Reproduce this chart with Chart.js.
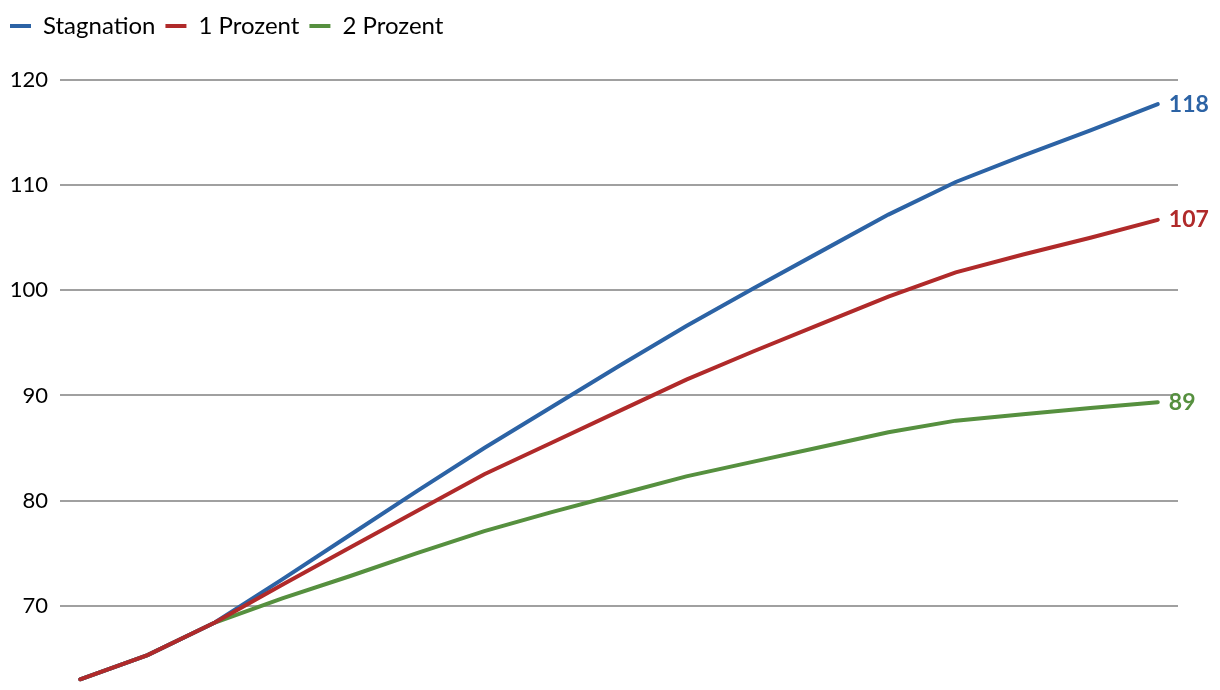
<!DOCTYPE html>
<html>
<head>
<meta charset="utf-8">
<script src="https://cdn.jsdelivr.net/npm/chart.js@4/dist/chart.umd.min.js"></script>
<style>
  html, body { margin: 0; padding: 0; background: #fff; overflow: hidden; height: 690px; }
  canvas { display: block; }
</style>
</head>
<body>
<canvas id="chart" width="1220" height="715"></canvas>
<script>
"use strict";

// Zeitschritte (x-Positionen), Achsenbeschriftung ist im Bild abgeschnitten
const schritte = [0, 1, 2, 3, 4, 5, 6, 7, 8, 9, 10, 11, 12, 13, 14, 15, 16];

const stagnation = [63.0, 65.3, 68.4, 72.5, 76.7, 80.9, 85.0, 88.9, 92.8, 96.6, 100.2, 103.7, 107.2, 110.3, 112.8, 115.2, 117.7];
const prozent1   = [63.0, 65.3, 68.4, 72.0, 75.5, 79.0, 82.5, 85.5, 88.5, 91.5, 94.2, 96.8, 99.4, 101.7, 103.4, 105.0, 106.7];
const prozent2   = [63.0, 65.3, 68.4, 70.7, 72.8, 75.0, 77.1, 78.9, 80.6, 82.3, 83.7, 85.1, 86.5, 87.6, 88.2, 88.8, 89.35];

const yTicks = [70, 80, 90, 100, 110, 120];

const blau = "#2c63a5";
const rot = "#b02a2a";
const gruen = "#56903f";
const schrift = "Lato, 'Noto Sans', sans-serif";

const toPoints = arr => arr.map((v, i) => ({ x: schritte[i], y: v }));

// mehr Abstand unter der Legende
const legendGap = {
    id: 'legendGap',
    beforeInit(chart) {
        const legend = chart.legend;
        if (!legend) return;
        const fit = legend.fit;
        legend.fit = function () {
            fit.call(this);
            this.height += 32;
        };
    }
};

// Endwerte rechts neben den Linien
const endLabels = {
    id: 'endLabels',
    afterDatasetsDraw(chart) {
        const ctx = chart.ctx;
        ctx.save();
        ctx.font = "bold 23px " + schrift;
        ctx.textBaseline = "middle";
        ctx.textAlign = "left";
        chart.data.datasets.forEach((ds, i) => {
            const meta = chart.getDatasetMeta(i);
            const pt = meta.data[meta.data.length - 1];
            const val = ds.data[ds.data.length - 1].y;
            ctx.fillStyle = ds.borderColor;
            ctx.fillText(Math.round(val), pt.x + 11, pt.y);
        });
        ctx.restore();
    }
};

function serie(label, werte, farbe, order) {
    return {
        label: label,
        data: toPoints(werte),
        borderColor: farbe,
        backgroundColor: farbe,
        pointBorderColor: farbe,
        pointBackgroundColor: farbe,
        pointBorderWidth: 4,
        borderWidth: 4,
        order: order
    };
}

const ctx = document.getElementById('chart').getContext('2d');

new Chart(ctx, {
    type: 'line',
    data: {
        datasets: [
            serie('Stagnation', stagnation, blau, 1),
            serie('1 Prozent', prozent1, rot, 0),
            serie('2 Prozent', prozent2, gruen, 2)
        ]
    },
    options: {
        responsive: false,
        animation: false,
        layout: {
            autoPadding: false,
            padding: { top: 4, right: 42, bottom: 0, left: 0 }
        },
        elements: {
            line: { tension: 0, borderCapStyle: 'round' },
            point: { radius: 0, hoverRadius: 0 }
        },
        scales: {
            x: {
                type: 'linear',
                display: false,
                min: -0.3,
                max: 16.3
            },
            y: {
                bounds: 'data',
                min: 62,
                max: 120,
                afterFit(scale) { scale.width = 60; },
                afterBuildTicks(scale) { scale.ticks = yTicks.map(v => ({ value: v })); },
                border: { display: false },
                grid: { color: "#a0a0a0", lineWidth: 2, drawTicks: false },
                ticks: {
                    padding: 12,
                    color: "#000",
                    font: { family: schrift, size: 22 }
                }
            }
        },
        plugins: {
            legend: {
                position: 'top',
                align: 'start',
                labels: {
                    usePointStyle: true,
                    pointStyle: 'line',
                    pointStyleWidth: 21,
                    padding: 10,
                    color: "#000",
                    font: { family: schrift, size: 24 },
                    sort: (a, b) => a.datasetIndex - b.datasetIndex
                }
            },
            tooltip: { enabled: false }
        }
    },
    plugins: [legendGap, endLabels]
});
</script>
</body>
</html>
